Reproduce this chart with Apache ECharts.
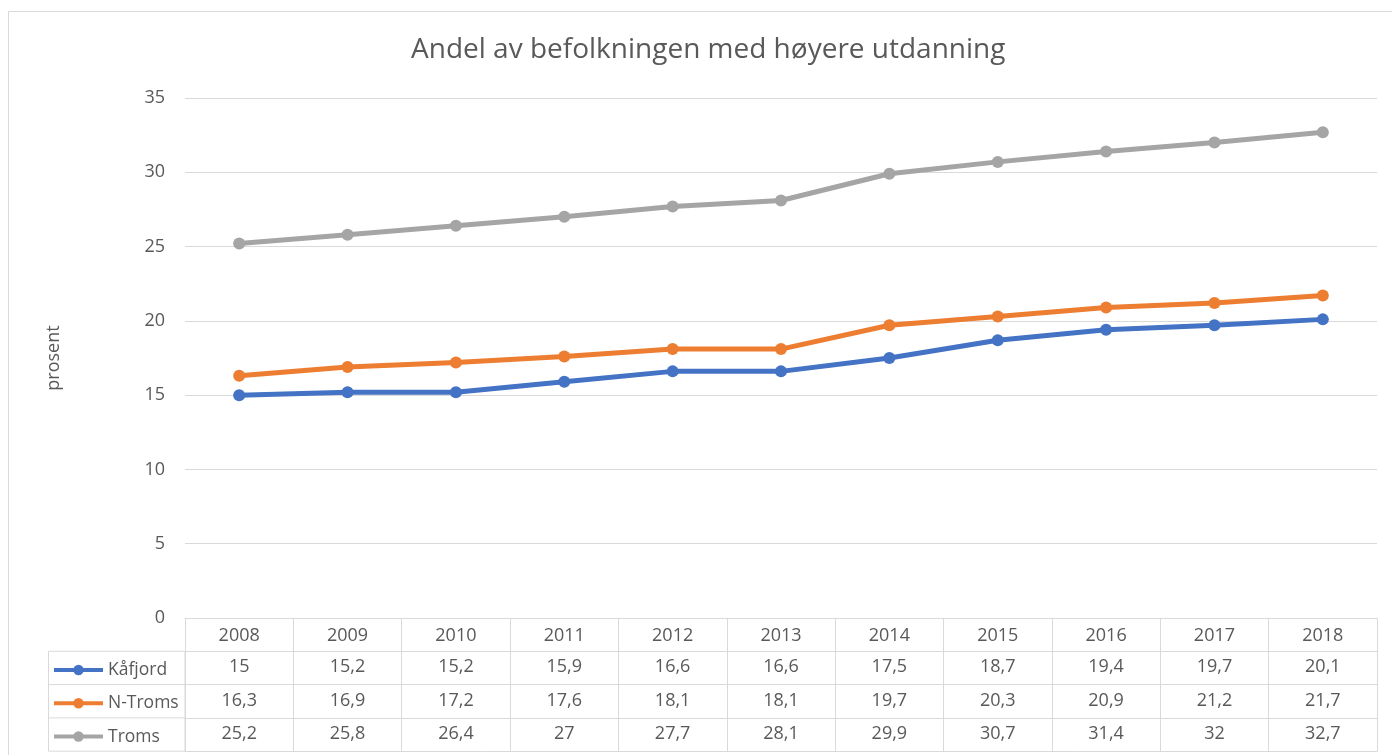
<!DOCTYPE html>
<html>
<head>
<meta charset="utf-8">
<script src="https://cdn.jsdelivr.net/npm/echarts@6/dist/echarts.min.js"></script>
<style>
  html, body { margin: 0; padding: 0; background: #fff; }
  #chart { width: 1392px; height: 755px; }
</style>
</head>
<body>
<div id="chart"></div>
<script>
// data
const years = ['2008', '2009', '2010', '2011', '2012', '2013', '2014', '2015', '2016', '2017', '2018'];
const kafjord = [15, 15.2, 15.2, 15.9, 16.6, 16.6, 17.5, 18.7, 19.4, 19.7, 20.1];
const nTroms = [16.3, 16.9, 17.2, 17.6, 18.1, 18.1, 19.7, 20.3, 20.9, 21.2, 21.7];
const troms = [25.2, 25.8, 26.4, 27, 27.7, 28.1, 29.9, 30.7, 31.4, 32, 32.7];
const yTicks = { min: 0, max: 35, step: 5 };

const FONT = 'Open Sans';
const TXT = '#595959';
const GRID = '#d9d9d9';
const ROW = 33.3;
const FS = 18;

// decimal comma, like the source table
const fmt = v => String(v).replace('.', ',');

const rows = [
  { name: 'Kåfjord', values: kafjord, color: '#4472C4' },
  { name: 'N-Troms', values: nTroms, color: '#ED7D31' },
  { name: 'Troms', values: troms, color: '#A5A5A5' }
];

const chart = echarts.init(document.getElementById('chart'));

// year row + vertical cell borders
const xAxes = [{
  type: 'category',
  data: years,
  boundaryGap: true,
  position: 'bottom',
  axisLine: { show: true, lineStyle: { color: GRID, width: 1 } },
  axisTick: { show: true, interval: 0, length: ROW * 4, lineStyle: { color: GRID, width: 1 } },
  axisLabel: { interval: 0, color: TXT, fontFamily: FONT, fontSize: FS, margin: 9 },
  splitLine: { show: false }
}];

// one axis per table row, labels read from the series arrays
rows.forEach((r, k) => {
  xAxes.push({
    type: 'category',
    data: years,
    position: 'bottom',
    offset: ROW * (k + 1),
    axisLine: { show: true, lineStyle: { color: GRID, width: 1 } },
    axisTick: { show: false },
    axisLabel: {
      interval: 0, color: TXT, fontFamily: FONT, fontSize: FS, margin: 7,
      formatter: (v, i) => fmt(r.values[i])
    }
  });
});

// bottom border of the table
xAxes.push({
  type: 'category',
  data: years,
  position: 'bottom',
  offset: ROW * 4,
  axisLine: { show: true, lineStyle: { color: GRID, width: 1 } },
  axisTick: { show: false },
  axisLabel: { show: false }
});

const legendTop0 = 618 + ROW;

const option = {
  animation: false,
  backgroundColor: '#fff',
  textStyle: { fontFamily: FONT },
  title: {
    text: 'Andel av befolkningen med høyere utdanning',
    left: 406,
    top: 31,
    textStyle: { color: TXT, fontFamily: FONT, fontSize: 28, fontWeight: 'normal' }
  },
  grid: { left: 185, right: 15, top: 98, bottom: 137, containLabel: false },
  legend: rows.map((r, k) => ({
    data: [r.name],
    left: 52,
    top: legendTop0 + ROW * k + ROW / 2 - 7,
    padding: 0,
    itemWidth: 49,
    itemHeight: 13,
    lineStyle: { width: 4 },
    textStyle: { color: TXT, fontFamily: FONT, fontSize: 17.5 }
  })),
  xAxis: xAxes,
  yAxis: {
    type: 'value',
    min: yTicks.min,
    max: yTicks.max,
    interval: yTicks.step,
    name: 'prosent',
    nameLocation: 'middle',
    nameRotate: 90,
    nameGap: 122,
    nameTextStyle: { color: TXT, fontFamily: FONT, fontSize: FS },
    axisLine: { show: false },
    axisTick: { show: false },
    axisLabel: { color: TXT, fontFamily: FONT, fontSize: FS, margin: 20 },
    splitLine: { lineStyle: { color: GRID, width: 1 } }
  },
  series: rows.map(r => ({
    name: r.name,
    type: 'line',
    data: r.values,
    symbol: 'circle',
    symbolSize: 12,
    color: r.color,
    lineStyle: { width: 5, color: r.color },
    itemStyle: { color: r.color }
  })),
  graphic: [
    // outer chart frame
    { type: 'rect', shape: { x: 8.5, y: 11.5, width: 1400, height: 800 },
      style: { fill: 'none', stroke: GRID, lineWidth: 1 }, silent: true, z: -1 },
    // legend column of the data table
    { type: 'rect', shape: { x: 48.5, y: legendTop0, width: 136.5, height: ROW * 3 },
      style: { fill: 'none', stroke: GRID, lineWidth: 1 }, silent: true },
    { type: 'line', shape: { x1: 48.5, y1: legendTop0 + ROW, x2: 185, y2: legendTop0 + ROW },
      style: { stroke: GRID, lineWidth: 1 }, silent: true },
    { type: 'line', shape: { x1: 48.5, y1: legendTop0 + ROW * 2, x2: 185, y2: legendTop0 + ROW * 2 },
      style: { stroke: GRID, lineWidth: 1 }, silent: true }
  ]
};

chart.setOption(option);
</script>
</body>
</html>
